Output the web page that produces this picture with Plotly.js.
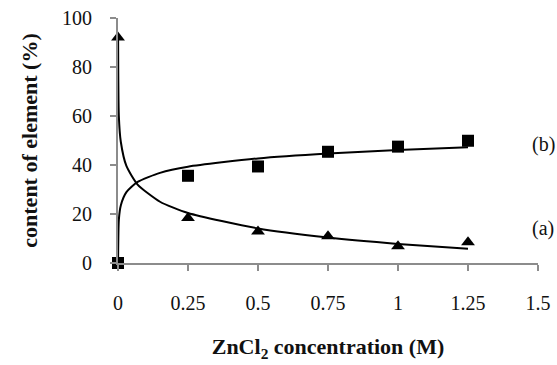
<!DOCTYPE html>
<html>
<head>
<meta charset="utf-8">
<script src="https://cdn.plot.ly/plotly-3.0.1.min.js"></script>
<style>html,body{margin:0;padding:0;background:#fff;}#chart{width:557px;height:365px;}</style>
</head>
<body>
<div id="chart"></div>
<script>
// Measured data points
const concentration = [0, 0.25, 0.5, 0.75, 1.0, 1.25];
const seriesA = [92, 18.4, 12.9, 10.9, 6.8, 8.5];      // triangles (a)
const seriesB = [0, 35.6, 39.4, 45.4, 47.5, 49.9];     // squares (b)

// Trend curves
const trendA_x = [0.0004, 0.003, 0.01, 0.03, 0.07, 0.15, 0.25, 0.5, 0.75, 1.0, 1.25];
const trendA_y = [92, 60, 49.5, 39.6, 32, 25, 20.4, 14.1, 10.4, 7.8, 5.8];
const trendB_x = [0.0002, 0.003, 0.01, 0.03, 0.07, 0.15, 0.25, 0.5, 0.75, 1.0, 1.25];
const trendB_y = [0, 17.6, 23.5, 28.9, 33.1, 36.8, 39.3, 42.7, 44.7, 46.1, 47.2];

const xTicks = [0, 0.25, 0.5, 0.75, 1, 1.25, 1.5];
const xTickText = ['0', '0.25', '0.5', '0.75', '1', '1.25', '1.5'];
const yTicks = [0, 20, 40, 60, 80, 100];
const curveLabels = ['(b)', '(a)'];
const curveLabelY = [48.2, 14.0];

const serif = 'Liberation Serif, Times New Roman, serif';
const axisGray = '#8c8c8c';
const txt = '#111';

const traces = [
  {x: trendA_x, y: trendA_y, mode: 'lines', line: {color: '#000', width: 2, shape: 'spline', smoothing: 0.6}, hoverinfo: 'skip', showlegend: false},
  {x: trendB_x, y: trendB_y, mode: 'lines', line: {color: '#000', width: 2, shape: 'spline', smoothing: 0.6}, hoverinfo: 'skip', showlegend: false},
  {x: concentration, y: seriesA, mode: 'markers', name: '(a)', marker: {symbol: 'triangle-up', size: 12, color: '#000'}, cliponaxis: false, showlegend: false},
  {x: concentration, y: seriesB, mode: 'markers', name: '(b)', marker: {symbol: 'square', size: 12, color: '#000'}, cliponaxis: false, showlegend: false}
];

const layout = {
  width: 557, height: 365,
  margin: {l: 118, r: 19, t: 17.5, b: 101.5},
  paper_bgcolor: '#fff', plot_bgcolor: '#fff',
  font: {family: serif, size: 20, color: txt},
  xaxis: {
    range: [0, 1.5], tickvals: xTicks, ticktext: xTickText,
    showgrid: false, zeroline: false, showline: true, linecolor: axisGray, linewidth: 2,
    ticks: 'outside', ticklen: 6, tickcolor: axisGray, tickwidth: 2, ticklabelstandoff: 15,
    tickfont: {family: serif, size: 20, color: txt},
    title: {text: 'ZnCl<sub>2</sub> concentration (M)', font: {family: serif, size: 22, color: txt, weight: 'bold'}, standoff: 26}
  },
  yaxis: {
    range: [0, 100], tickvals: yTicks,
    showgrid: false, zeroline: false, showline: true, linecolor: axisGray, linewidth: 2,
    ticks: 'outside', ticklen: 6, tickcolor: axisGray, tickwidth: 2, ticklabelstandoff: 14,
    tickfont: {family: serif, size: 20, color: txt},
    title: {text: 'content of element (%)', font: {family: serif, size: 22, color: txt, weight: 'bold'}, standoff: 18}
  },
  annotations: curveLabels.map((t, i) => ({
    x: 1.012, y: curveLabelY[i], xref: 'paper', yref: 'y', xanchor: 'center', text: t, showarrow: false,
    font: {family: serif, size: 20, color: txt}
  }))
};

Plotly.newPlot('chart', traces, layout, {displayModeBar: false, staticPlot: true});
</script>
</body>
</html>
